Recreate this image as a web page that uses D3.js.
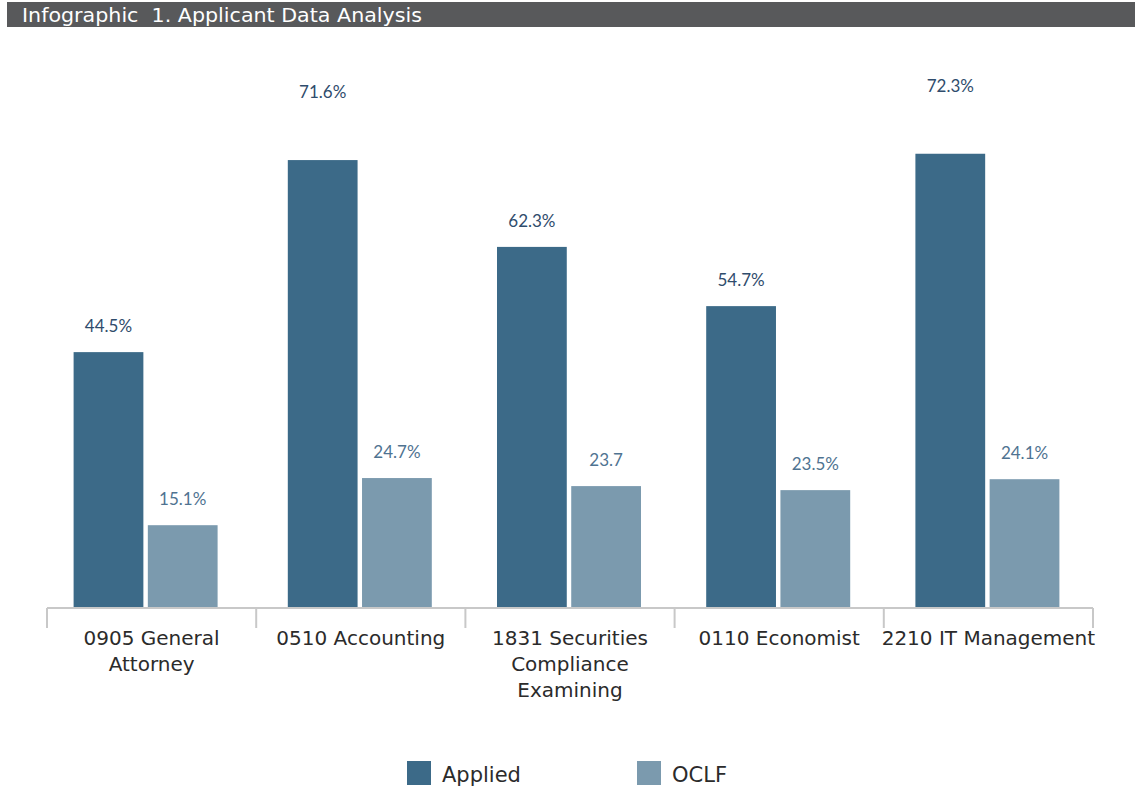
<!DOCTYPE html>
<html>
<head>
<meta charset="utf-8">
<script src="https://cdn.jsdelivr.net/npm/d3@7"></script>
<style>
	body { margin:0; background:#fff; }
	#c-svg { width:1135px; height:793px; }
</style>
</head>
<body>
<div id="c-svg"></div>
<script>

//data
const categories = ["0905 General|Attorney", "0510 Accounting", "1831 Securities|Compliance|Examining", "0110 Economist", "2210 IT Management"];
const series = ["Applied", "OCLF"];
// bar heights (the drawn bars are not to the label scale)
const applied = [44.5, 77.9, 62.8, 52.5, 79.0];
const oclf = [14.4, 22.6, 21.2, 20.5, 22.4];
// printed labels
const appliedLabels = ["44.5%", "71.6%", "62.3%", "54.7%", "72.3%"];
const oclfLabels = ["15.1%", "24.7%", "23.7", "23.5%", "24.1%"];

function graph(){

	//sizing
	let width = 1135;
	let height = 793;

	let svg = d3.select("#c-svg")
		.append("svg")
		.attr("width", width)
		.attr("height", height);

	//colors
	let colors = d3.scaleOrdinal()
		.domain(series)
		.range(["#3c6a88", "#7b9aae"]);
	let labelColors = d3.scaleOrdinal()
		.domain(series)
		.range(["#2f4c6c", "#4f7391"]);

	//title bar
	svg.append("rect")
		.attr("x", 7).attr("y", 2)
		.attr("width", width - 7).attr("height", 25)
		.attr("fill", "#58595b");
	svg.append("text")
		.attr("x", 22).attr("y", 22)
		.attr("fill", "#fff")
		.attr("font-family", "'DejaVu Sans', sans-serif")
		.attr("font-size", 19)
		.attr("textLength", 400)
		.attr("lengthAdjust", "spacingAndGlyphs")
		.style("white-space", "pre")
		.text("Infographic  1. Applicant Data Analysis");

	//scales
	let x0 = d3.scaleBand()
		.domain(categories)
		.range([47, 1093]);

	let x1 = d3.scaleBand()
		.domain(series)
		.range([0, 144])
		.paddingInner(0.06);

	let y = d3.scaleLinear()
		.domain([0, 80])
		.range([608, 148]);

	//table
	let rows = categories.map((c, i) => ({
		cat: c,
		vals: [
			{s: "Applied", v: applied[i], label: appliedLabels[i]},
			{s: "OCLF", v: oclf[i], label: oclfLabels[i]}
		]
	}));

	let groups = svg.append("g")
		.selectAll(".grp")
		.data(rows)
		.join("g")
		.attr("class", "grp")
		.attr("transform", (d, i) => `translate(${x0(d.cat) + x0.bandwidth()/2 - 73 - (i === 0 ? 5 : 0)},0)`);

	groups.selectAll("rect")
		.data(d => d.vals)
		.join("rect")
		.attr("x", d => x1(d.s))
		.attr("y", d => y(d.v))
		.attr("width", x1.bandwidth())
		.attr("height", d => y(0) - y(d.v))
		.attr("fill", d => colors(d.s));

	groups.selectAll("text")
		.data(d => d.vals)
		.join("text")
		.attr("x", d => x1(d.s) + x1.bandwidth()/2)
		.attr("y", d => y(d.v) - (d.v > 75 ? 62 : 20))
		.attr("text-anchor", "middle")
		.attr("font-family", "Lato, sans-serif")
		.attr("font-size", 17)
		.attr("fill", d => labelColors(d.s))
		.text(d => d.label);

	//axis
	let axis = svg.append("g");
	axis.append("line")
		.attr("x1", 47).attr("x2", 1093)
		.attr("y1", 608).attr("y2", 608)
		.attr("stroke", "#c8c8c8").attr("stroke-width", 2);

	let edges = categories.map(c => x0(c)).concat([x0.range()[1]]);
	axis.selectAll(".tick")
		.data(edges)
		.join("line")
		.attr("class", "tick")
		.attr("x1", d => d).attr("x2", d => d)
		.attr("y1", 608).attr("y2", 628)
		.attr("stroke", "#c8c8c8").attr("stroke-width", 2);

	let catLabels = axis.selectAll(".cat")
		.data(categories)
		.join("text")
		.attr("class", "cat")
		.attr("x", d => x0(d) + x0.bandwidth()/2)
		.attr("y", 645)
		.attr("text-anchor", "middle")
		.attr("font-family", "'DejaVu Sans', sans-serif")
		.attr("font-size", 20)
		.attr("fill", "#2b2b2b");

	catLabels.selectAll("tspan")
		.data(d => d.split("|").map(t => ({t: t, x: x0(d) + x0.bandwidth()/2})))
		.join("tspan")
		.attr("x", d => d.x)
		.attr("dy", (d, i) => i === 0 ? 0 : 26)
		.text(d => d.t);

	//legend
	let legend = svg.append("g")
		.selectAll(".leg")
		.data(series)
		.join("g")
		.attr("class", "leg")
		.attr("transform", (d, i) => `translate(${407 + i*230},761)`);

	legend.append("rect")
		.attr("width", 24).attr("height", 24)
		.attr("fill", d => colors(d));
	legend.append("text")
		.attr("x", 35).attr("y", 21)
		.attr("font-family", "'DejaVu Sans', sans-serif")
		.attr("font-size", 21)
		.attr("fill", "#2b2b2b")
		.text(d => d);

}

graph();

</script>
</body>
</html>
